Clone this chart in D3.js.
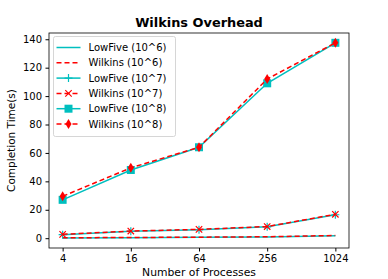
<!DOCTYPE html>
<html>
<head>
<meta charset="utf-8">
<script src="https://cdn.jsdelivr.net/npm/d3@7"></script>
<style>
  body { margin: 0; background: #fff; }
  text { font-family: "DejaVu Sans", sans-serif; }
</style>
</head>
<body>
<div id="chart"></div>
<script>
const width = 388, height = 279,
      margin = {top: 33, right: 39, bottom: 31, left: 49};

const processes = [4, 16, 64, 256, 1024];
const lowfive6 = [0.2, 0.4, 0.6, 0.9, 1.7];
const wilkins6 = [0.3, 0.5, 0.7, 1.0, 1.9];
const lowfive7 = [2.5, 4.8, 6.0, 8.0, 16.5];
const wilkins7 = [2.7, 5.0, 6.2, 8.2, 16.8];
const lowfive8 = [27.0, 48.0, 64.0, 109.0, 137.5];
const wilkins8 = [29.5, 49.5, 64.0, 112.0, 137.5];
const yTicks = [0, 20, 40, 60, 80, 100, 120, 140];

const series = [
    { name: "LowFive (10^6)", values: lowfive6, color: "#00bfbf", dash: null, marker: null },
    { name: "Wilkins (10^6)", values: wilkins6, color: "#ff0000", dash: "5,3", marker: null },
    { name: "LowFive (10^7)", values: lowfive7, color: "#00bfbf", dash: null, marker: "plus" },
    { name: "Wilkins (10^7)", values: wilkins7, color: "#ff0000", dash: "5,3", marker: "x" },
    { name: "LowFive (10^8)", values: lowfive8, color: "#00bfbf", dash: null, marker: "square" },
    { name: "Wilkins (10^8)", values: wilkins8, color: "#ff0000", dash: "5,3", marker: "diamond" }
];

const svg = d3.select("#chart").append("svg")
    .attr("width", width)
    .attr("height", height);

const x = d3.scaleLog().base(2)
    .domain([Math.pow(2, 1.6), Math.pow(2, 10.4)])
    .range([margin.left, width - margin.right]);

const y = d3.scaleLinear()
    .domain([-6.9, 144.4])
    .range([height - margin.bottom, margin.top]);

// axes
svg.append("g")
    .attr("transform", `translate(0,${height - margin.bottom})`)
    .call(d3.axisBottom(x).tickValues(processes).tickFormat(d3.format("d")).tickSize(3.5).tickPadding(3.5))
    .call(g => g.select(".domain").remove())
    .call(g => g.selectAll("text").attr("font-size", 10).attr("fill", "#000"));

svg.append("g")
    .attr("transform", `translate(${margin.left},0)`)
    .call(d3.axisLeft(y).tickValues(yTicks).tickSize(3.5).tickPadding(3.5))
    .call(g => g.select(".domain").remove())
    .call(g => g.selectAll("text").attr("font-size", 10).attr("fill", "#000"));

const line = d3.line()
    .x((d, i) => x(processes[i]))
    .y(d => y(d));

function drawMarker(g, type, color) {
    if (type === "plus") {
        g.append("path").attr("d", "M-4,0H4M0,-4V4")
            .attr("stroke", color).attr("stroke-width", 1.2).attr("fill", "none");
    } else if (type === "x") {
        g.append("path").attr("d", "M-3.2,-3.2L3.2,3.2M-3.2,3.2L3.2,-3.2")
            .attr("stroke", color).attr("stroke-width", 1.2).attr("fill", "none");
    } else if (type === "square") {
        g.append("rect").attr("x", -4).attr("y", -4).attr("width", 8).attr("height", 8)
            .attr("fill", color);
    } else if (type === "diamond") {
        g.append("path").attr("d", "M0,-5L3,0L0,5L-3,0Z")
            .attr("fill", color);
    }
}

const plot = svg.append("g");

series.forEach(function(s) {
    plot.append("path")
        .datum(s.values)
        .attr("d", line)
        .attr("fill", "none")
        .attr("stroke", s.color)
        .attr("stroke-width", 1.5)
        .attr("stroke-dasharray", s.dash ? s.dash : null);
    if (s.marker) {
        s.values.forEach(function(v, i) {
            const m = plot.append("g")
                .attr("transform", `translate(${x(processes[i])},${y(v)})`);
            drawMarker(m, s.marker, s.color);
        });
    }
});

// frame
svg.append("rect")
    .attr("x", margin.left).attr("y", margin.top)
    .attr("width", width - margin.left - margin.right)
    .attr("height", height - margin.top - margin.bottom)
    .attr("fill", "none").attr("stroke", "#000").attr("stroke-width", 0.8);

// legend
const legend = svg.append("g").attr("transform", "translate(53.5,36.5)");
legend.append("rect")
    .attr("width", 122).attr("height", 100).attr("rx", 2)
    .attr("fill", "#fff").attr("fill-opacity", 0.8)
    .attr("stroke", "#ccc").attr("stroke-width", 0.8);

series.forEach(function(s, i) {
    const row = legend.append("g").attr("transform", `translate(0,${11 + i * 15.3})`);
    row.append("line")
        .attr("x1", 3).attr("x2", 27).attr("y1", 0).attr("y2", 0)
        .attr("stroke", s.color).attr("stroke-width", 1.5)
        .attr("stroke-dasharray", s.dash ? s.dash : null);
    if (s.marker) {
        const m = row.append("g").attr("transform", "translate(15,0)");
        drawMarker(m, s.marker, s.color);
    }
    row.append("text")
        .attr("x", 35).attr("y", 0).attr("dy", "0.35em")
        .attr("font-size", 10).attr("fill", "#000")
        .text(s.name);
});

// labels
svg.append("text")
    .attr("x", (margin.left + width - margin.right) / 2).attr("y", 26.5)
    .attr("text-anchor", "middle").attr("font-size", 12.9).attr("font-weight", "bold")
    .text("Wilkins Overhead");

svg.append("text")
    .attr("x", (margin.left + width - margin.right) / 2).attr("y", 276)
    .attr("text-anchor", "middle").attr("font-size", 10.8)
    .text("Number of Processes");

svg.append("text")
    .attr("transform", `translate(15,${(margin.top + height - margin.bottom) / 2}) rotate(-90)`)
    .attr("text-anchor", "middle").attr("font-size", 10.5)
    .text("Completion Time(s)");
</script>
</body>
</html>
